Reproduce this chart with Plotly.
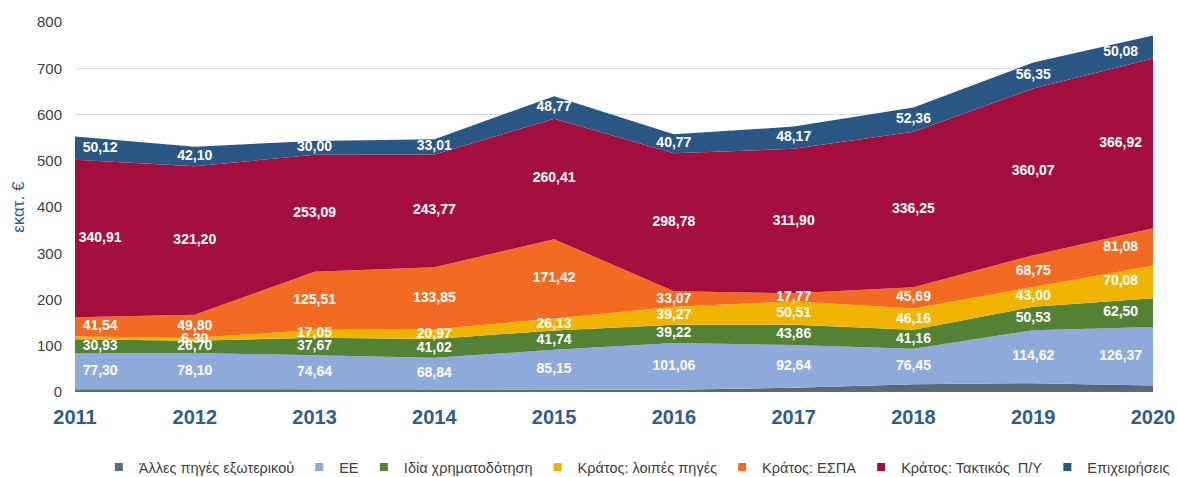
import plotly.graph_objects as go

years = [2011, 2012, 2013, 2014, 2015, 2016, 2017, 2018, 2019, 2020]

series_names = [
    "Άλλες πηγές εξωτερικού",
    "ΕΕ",
    "Ιδία χρηματοδότηση",
    "Κράτος: λοιπές πηγές",
    "Κράτος: ΕΣΠΑ",
    "Κράτος: Τακτικός  Π/Υ",
    "Επιχειρήσεις",
]

other_abroad = [6, 6, 5, 5, 6, 5, 9, 17, 19, 14]
eu = [77.30, 78.10, 74.64, 68.84, 85.15, 101.06, 92.64, 76.45, 114.62, 126.37]
own_funding = [30.93, 26.70, 37.67, 41.02, 41.74, 39.22, 43.86, 41.16, 50.53, 62.50]
state_other = [5.75, 6.30, 17.05, 20.97, 26.13, 39.27, 50.51, 46.16, 43.00, 70.08]
state_espa = [41.54, 49.80, 125.51, 133.85, 171.42, 33.07, 17.77, 45.69, 68.75, 81.08]
state_budget = [340.91, 321.20, 253.09, 243.77, 260.41, 298.78, 311.90, 336.25, 360.07, 366.92]
business = [50.12, 42.10, 30.00, 33.01, 48.77, 40.77, 48.17, 52.36, 56.35, 50.08]

series_values = [other_abroad, eu, own_funding, state_other, state_espa, state_budget, business]
show_labels = [False, True, True, True, True, True, True]

y_ticks = [0, 100, 200, 300, 400, 500, 600, 700, 800]
y_title = "εκατ. €"

colors = ["#596a7b", "#8eaadb", "#548235", "#f0b400", "#f36b22", "#a50f3f", "#2a5783"]

# label x offsets (in years) for the first and last points, to keep labels inside
label_offsets = [0.21, 0, 0, 0, 0, 0, 0, 0, 0, -0.27]
special_offsets = {(3, 0): -0.13}  # yellow 2011 label sits left of the others
special_y_nudge = {(6, 9): -11}    # last top label nudged down inside the band

fig = go.Figure()

# stacked areas
for name, vals, col in zip(series_names, series_values, colors):
    fig.add_trace(go.Scatter(
        x=years, y=vals, name=name, stackgroup="one", mode="lines",
        line=dict(width=0, color=col), fillcolor=col, showlegend=False,
        hoverinfo="skip",
    ))

# data labels at band midpoints
base = [0.0] * len(years)
for si, (vals, show) in enumerate(zip(series_values, show_labels)):
    mids = [b + v / 2 + special_y_nudge.get((si, i), 0) for i, (b, v) in enumerate(zip(base, vals))]
    if show:
        xs = [y + special_offsets.get((si, i), label_offsets[i]) for i, y in enumerate(years)]
        fig.add_trace(go.Scatter(
            x=xs, y=mids, mode="text",
            text=[f"{v:.2f}".replace(".", ",") for v in vals],
            textposition="middle center",
            textfont=dict(family="Liberation Sans, Arial, sans-serif", size=14, color="white", weight="bold"),
            cliponaxis=True, showlegend=False, hoverinfo="skip",
        ))
    base = [b + v for b, v in zip(base, vals)]

# legend entries with square markers
for name, col in zip(series_names, colors):
    fig.add_trace(go.Scatter(
        x=[None], y=[None], mode="markers", name=name,
        marker=dict(symbol="square", size=8, color=col),
    ))

fig.add_annotation(
    text=y_title, xref="paper", yref="paper", x=-0.053, y=0.5,
    textangle=-90, showarrow=False, xanchor="center", yanchor="middle",
    font=dict(size=17, color="#2f5b89", family="Liberation Sans, Arial, sans-serif"),
)

fig.update_layout(
    width=1177, height=477,
    margin=dict(l=75, r=24, t=22, b=85, autoexpand=False),
    paper_bgcolor="white", plot_bgcolor="white",
    font=dict(family="Liberation Sans, Arial, sans-serif", color="#404040"),
    showlegend=True,
    legend=dict(
        orientation="h", xref="container", yref="container",
        x=0.084, xanchor="left", y=0.021, yanchor="middle",
        font=dict(size=14.5, color="#404040"), itemwidth=30, traceorder="normal",
        bgcolor="rgba(0,0,0,0)",
    ),
    xaxis=dict(
        range=[2011, 2020], tickvals=years, ticktext=[str(y) for y in years],
        showgrid=False, zeroline=False, showline=False, ticks="", automargin=False,
        tickfont=dict(size=20, color="#2e5d8c", family="Liberation Sans, Arial, sans-serif", weight="bold"),
        ticklabelstandoff=11,
    ),
    yaxis=dict(
        range=[0, 800], tickvals=y_ticks, automargin=False,
        showgrid=True, gridcolor="#d9d9d9", gridwidth=1, zeroline=False, showline=False,
        ticks="", tickfont=dict(size=15, color="#404040"), ticklabelstandoff=12,
    ),
)

fig.write_html(
    "out.html",
    config={"displayModeBar": False},
    post_script="document.body.style.margin='0';document.body.style.overflow='hidden';",
)
